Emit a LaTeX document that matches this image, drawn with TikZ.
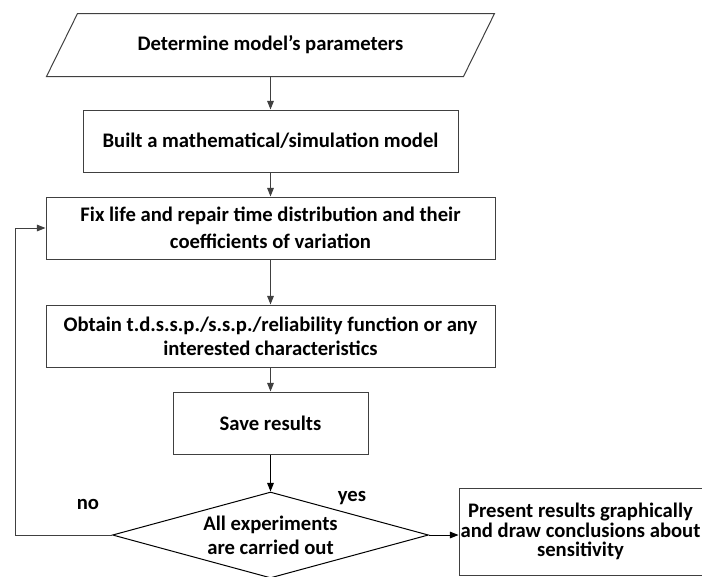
\documentclass[tikz,border=0pt]{standalone}
\usepackage{fontspec}
\setmainfont{Carlito}
\usetikzlibrary{shapes.geometric}
\usetikzlibrary{arrows.meta}
\definecolor{line-grey}{RGB}{64, 64, 64}
\tikzset{
  flow-box/.style={draw=line-grey, line width=0.75pt, align=center, inner sep=0pt,
    font=\bfseries\fontsize{15.5}{18}\selectfont},
  flow-label/.style={font=\bfseries\fontsize{15.5}{18}\selectfont},
  flow-arrow/.style={draw=line-grey, line width=0.75pt, -{Triangle[length=6.5pt, width=5pt]}}
}

\begin{document}
\begin{tikzpicture}[x=0.75pt, y=-0.75pt]
\useasboundingbox (0,0) rectangle (702,576);
% input
\node[flow-box, draw=none, minimum width=335.25pt, minimum height=46.5pt] (param) at (270.5,45) {Determine model's parameters};
\draw[line-grey, line width=0.75pt] (param.south west) -- ([xshift=-23.25pt]param.south east) -- (param.north east) -- ([xshift=23.25pt]param.north west) -- cycle;
% steps
\node[flow-box, minimum width=281.25pt, minimum height=46.5pt] (model) at (270.5,141) {Built a mathematical/simulation model};
\node[flow-box, minimum width=336.75pt, minimum height=46.5pt, font=\bfseries\fontsize{15.5}{20}\selectfont] (fix) at (270.5,228) {Fix life and repair time distribution and their\\coefficients of variation};
\node[flow-box, minimum width=336.75pt, minimum height=46.5pt] (obtain) at (270.5,336) {Obtain t.d.s.s.p./s.s.p./reliability function or any\\interested characteristics};
\node[flow-box, minimum width=146.25pt, minimum height=46.5pt] (save) at (270.5,423) {Save results};
\node[flow-box, draw=black, shape=diamond, aspect=3.67, minimum width=237pt, minimum height=64.5pt] (check) at (270.5,535) {All experiments\\are carried out};
\node[flow-box, minimum width=182.25pt, minimum height=65.25pt, font=\bfseries\fontsize{15.5}{14.5}\selectfont] (present) at (580.5,531.5) {Present results graphically\\and draw conclusions about\\sensitivity};
% labels
\node[flow-label] (no-label) at (88,504) {no};
\node[flow-label] (yes-label) at (352,498) {yes};
\coordinate (loop-corner) at (15,535);
% arrows
\draw[flow-arrow] (param) -- (model);
\draw[flow-arrow] (model) -- (fix);
\draw[flow-arrow] (fix) -- (obtain);
\draw[flow-arrow] (obtain) -- (save);
\draw[flow-arrow, draw=black] (save) -- (check);
\draw[flow-arrow, draw=black] (check.east) -- (check.east -| present.west);
\draw[flow-arrow] (check.west) -- (loop-corner) |- (fix.west);
\end{tikzpicture}
\end{document}
